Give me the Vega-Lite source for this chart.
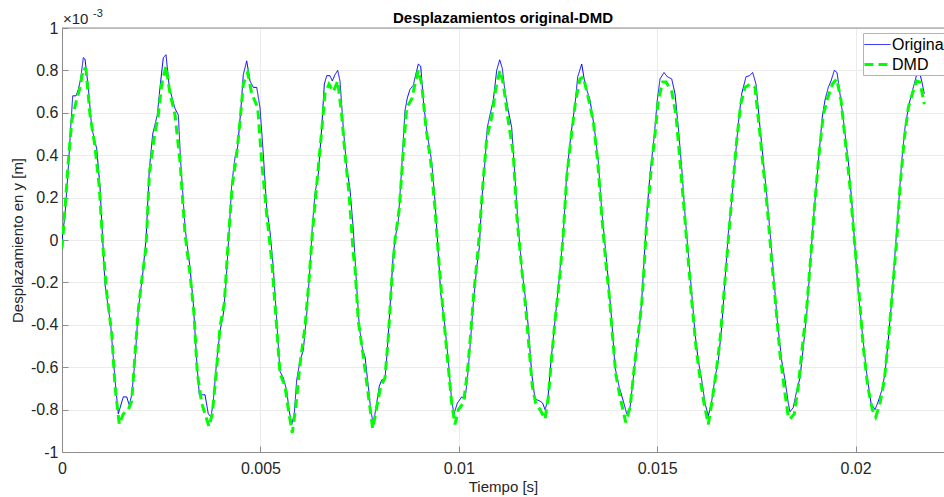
{
"$schema":"https://vega.github.io/schema/vega-lite/v6.json",
"width":882,"height":424,
"autosize":{"type":"none"},
"padding":{"left":62,"top":28,"right":0,"bottom":45},
"background":"white",
"title":{"text":"Desplazamientos original-DMD","fontSize":15,"fontWeight":"bold","font":"Liberation Sans","color":"#000000","offset":5,"anchor":"middle","frame":"group","dy":23},
"config":{"view":{"stroke":null},"axis":{"labelFont":"Liberation Sans","titleFont":"Liberation Sans","labelFontSize":16,"titleFontSize":15,"labelColor":"#262626","titleColor":"#262626","titleFontWeight":"normal","domainColor":"#8c8c8c","tickColor":"#8c8c8c","gridColor":"#ebebeb","grid":true}},
"datasets":{
"original":[{"t":0,"y":0},{"t":0.000076,"y":0.12},{"t":0.000159,"y":0.34},{"t":0.000219,"y":0.53},{"t":0.00027,"y":0.68},{"t":0.000353,"y":0.68},{"t":0.000411,"y":0.71},{"t":0.000471,"y":0.76},{"t":0.000537,"y":0.86},{"t":0.00058,"y":0.853},{"t":0.000663,"y":0.72},{"t":0.000749,"y":0.53},{"t":0.000875,"y":0.43},{"t":0.000958,"y":0.25},{"t":0.001026,"y":0},{"t":0.001084,"y":-0.21},{"t":0.001227,"y":-0.4},{"t":0.001336,"y":-0.66},{"t":0.001419,"y":-0.82},{"t":0.001545,"y":-0.74},{"t":0.001631,"y":-0.74},{"t":0.001696,"y":-0.78},{"t":0.001757,"y":-0.73},{"t":0.00184,"y":-0.57},{"t":0.001923,"y":-0.33},{"t":0.002034,"y":-0.16},{"t":0.002117,"y":0},{"t":0.0022,"y":0.33},{"t":0.002286,"y":0.5},{"t":0.002402,"y":0.59},{"t":0.00247,"y":0.72},{"t":0.002553,"y":0.86},{"t":0.002621,"y":0.874},{"t":0.002704,"y":0.72},{"t":0.002848,"y":0.62},{"t":0.002931,"y":0.59},{"t":0.002991,"y":0.37},{"t":0.0031,"y":0.06},{"t":0.003226,"y":-0.13},{"t":0.003309,"y":-0.3},{"t":0.003395,"y":-0.57},{"t":0.00346,"y":-0.73},{"t":0.003561,"y":-0.73},{"t":0.003604,"y":-0.73},{"t":0.003687,"y":-0.82},{"t":0.003755,"y":-0.835},{"t":0.003813,"y":-0.76},{"t":0.003899,"y":-0.57},{"t":0.003982,"y":-0.43},{"t":0.004065,"y":-0.35},{"t":0.004126,"y":-0.22},{"t":0.004209,"y":0.03},{"t":0.004277,"y":0.26},{"t":0.00436,"y":0.39},{"t":0.004428,"y":0.44},{"t":0.004511,"y":0.625},{"t":0.004569,"y":0.78},{"t":0.004655,"y":0.845},{"t":0.004738,"y":0.75},{"t":0.004821,"y":0.72},{"t":0.004907,"y":0.72},{"t":0.00499,"y":0.625},{"t":0.005073,"y":0.405},{"t":0.005159,"y":0.15},{"t":0.005242,"y":0.04},{"t":0.005325,"y":-0.13},{"t":0.005411,"y":-0.38},{"t":0.005494,"y":-0.62},{"t":0.005577,"y":-0.65},{"t":0.005663,"y":-0.71},{"t":0.005721,"y":-0.8},{"t":0.005789,"y":-0.87},{"t":0.005854,"y":-0.82},{"t":0.005915,"y":-0.66},{"t":0.005998,"y":-0.57},{"t":0.006081,"y":-0.52},{"t":0.006167,"y":-0.35},{"t":0.00625,"y":-0.13},{"t":0.006308,"y":0.06},{"t":0.006376,"y":0.22},{"t":0.006459,"y":0.31},{"t":0.006545,"y":0.53},{"t":0.006611,"y":0.735},{"t":0.006671,"y":0.775},{"t":0.006754,"y":0.775},{"t":0.006812,"y":0.75},{"t":0.00688,"y":0.78},{"t":0.006948,"y":0.8},{"t":0.007006,"y":0.75},{"t":0.007089,"y":0.53},{"t":0.007175,"y":0.34},{"t":0.007258,"y":0.24},{"t":0.007341,"y":0.05},{"t":0.007427,"y":-0.22},{"t":0.007493,"y":-0.41},{"t":0.007578,"y":-0.52},{"t":0.007636,"y":-0.55},{"t":0.007719,"y":-0.69},{"t":0.00778,"y":-0.8},{"t":0.007846,"y":-0.87},{"t":0.007913,"y":-0.79},{"t":0.007996,"y":-0.69},{"t":0.008057,"y":-0.66},{"t":0.00814,"y":-0.655},{"t":0.008198,"y":-0.52},{"t":0.008266,"y":-0.32},{"t":0.008349,"y":-0.065},{"t":0.008417,"y":0.03},{"t":0.008475,"y":0.09},{"t":0.008561,"y":0.34},{"t":0.008644,"y":0.61},{"t":0.008702,"y":0.67},{"t":0.00877,"y":0.71},{"t":0.008854,"y":0.73},{"t":0.008914,"y":0.78},{"t":0.00898,"y":0.83},{"t":0.00904,"y":0.82},{"t":0.009106,"y":0.66},{"t":0.009191,"y":0.515},{"t":0.009317,"y":0.37},{"t":0.0094,"y":0.185},{"t":0.009484,"y":-0.065},{"t":0.009544,"y":-0.25},{"t":0.009652,"y":-0.41},{"t":0.009736,"y":-0.57},{"t":0.009821,"y":-0.76},{"t":0.009879,"y":-0.82},{"t":0.009962,"y":-0.77},{"t":0.010073,"y":-0.74},{"t":0.010156,"y":-0.75},{"t":0.010214,"y":-0.66},{"t":0.010282,"y":-0.505},{"t":0.010366,"y":-0.3},{"t":0.010451,"y":-0.13},{"t":0.010517,"y":-0.035},{"t":0.010577,"y":0.185},{"t":0.01066,"y":0.37},{"t":0.010718,"y":0.53},{"t":0.010786,"y":0.59},{"t":0.01087,"y":0.66},{"t":0.010955,"y":0.8},{"t":0.01103,"y":0.85},{"t":0.011096,"y":0.81},{"t":0.011164,"y":0.7},{"t":0.011248,"y":0.61},{"t":0.011333,"y":0.53},{"t":0.011416,"y":0.295},{"t":0.0115,"y":0.06},{"t":0.011585,"y":-0.13},{"t":0.011686,"y":-0.285},{"t":0.011752,"y":-0.41},{"t":0.011837,"y":-0.63},{"t":0.01192,"y":-0.75},{"t":0.012047,"y":-0.76},{"t":0.012115,"y":-0.77},{"t":0.012173,"y":-0.8},{"t":0.012241,"y":-0.76},{"t":0.012324,"y":-0.57},{"t":0.012425,"y":-0.38},{"t":0.012525,"y":-0.19},{"t":0.012634,"y":0.03},{"t":0.012719,"y":0.31},{"t":0.012828,"y":0.5},{"t":0.012929,"y":0.64},{"t":0.012997,"y":0.77},{"t":0.013098,"y":0.83},{"t":0.013181,"y":0.735},{"t":0.013307,"y":0.66},{"t":0.013415,"y":0.53},{"t":0.013516,"y":0.37},{"t":0.013601,"y":0.14},{"t":0.013685,"y":-0.02},{"t":0.013768,"y":-0.19},{"t":0.013854,"y":-0.38},{"t":0.013937,"y":-0.6},{"t":0.014038,"y":-0.69},{"t":0.014146,"y":-0.76},{"t":0.014232,"y":-0.82},{"t":0.014315,"y":-0.79},{"t":0.014398,"y":-0.65},{"t":0.014484,"y":-0.505},{"t":0.014541,"y":-0.44},{"t":0.01461,"y":-0.285},{"t":0.014675,"y":-0.08},{"t":0.014736,"y":0.12},{"t":0.014819,"y":0.31},{"t":0.01492,"y":0.48},{"t":0.015003,"y":0.66},{"t":0.015071,"y":0.76},{"t":0.015172,"y":0.79},{"t":0.015255,"y":0.77},{"t":0.015366,"y":0.76},{"t":0.015449,"y":0.69},{"t":0.015532,"y":0.53},{"t":0.015618,"y":0.34},{"t":0.015701,"y":0.12},{"t":0.015784,"y":-0.065},{"t":0.01587,"y":-0.25},{"t":0.015953,"y":-0.44},{"t":0.016036,"y":-0.57},{"t":0.016122,"y":-0.66},{"t":0.016205,"y":-0.77},{"t":0.016288,"y":-0.83},{"t":0.016374,"y":-0.76},{"t":0.016457,"y":-0.65},{"t":0.01654,"y":-0.57},{"t":0.016626,"y":-0.41},{"t":0.016709,"y":-0.19},{"t":0.016792,"y":0.03},{"t":0.016878,"y":0.185},{"t":0.016961,"y":0.37},{"t":0.017044,"y":0.55},{"t":0.01713,"y":0.69},{"t":0.017238,"y":0.77},{"t":0.017322,"y":0.775},{"t":0.017407,"y":0.79},{"t":0.01749,"y":0.735},{"t":0.017591,"y":0.53},{"t":0.017692,"y":0.34},{"t":0.017775,"y":0.185},{"t":0.017861,"y":0},{"t":0.017944,"y":-0.19},{"t":0.018027,"y":-0.38},{"t":0.018138,"y":-0.57},{"t":0.018221,"y":-0.66},{"t":0.018304,"y":-0.77},{"t":0.018347,"y":-0.81},{"t":0.01843,"y":-0.79},{"t":0.018516,"y":-0.71},{"t":0.018599,"y":-0.65},{"t":0.018682,"y":-0.505},{"t":0.018768,"y":-0.35},{"t":0.018851,"y":-0.13},{"t":0.018934,"y":0.09},{"t":0.01902,"y":0.28},{"t":0.019078,"y":0.405},{"t":0.019161,"y":0.58},{"t":0.019229,"y":0.66},{"t":0.019312,"y":0.72},{"t":0.01938,"y":0.75},{"t":0.019464,"y":0.8},{"t":0.019532,"y":0.79},{"t":0.019607,"y":0.69},{"t":0.019716,"y":0.53},{"t":0.019817,"y":0.37},{"t":0.019902,"y":0.185},{"t":0.019985,"y":-0.035},{"t":0.020069,"y":-0.25},{"t":0.02017,"y":-0.44},{"t":0.02028,"y":-0.63},{"t":0.020389,"y":-0.77},{"t":0.02049,"y":-0.8},{"t":0.020573,"y":-0.76},{"t":0.020659,"y":-0.71},{"t":0.020741,"y":-0.63},{"t":0.020825,"y":-0.47},{"t":0.02091,"y":-0.285},{"t":0.020993,"y":-0.065},{"t":0.021077,"y":0.15},{"t":0.021162,"y":0.37},{"t":0.021245,"y":0.53},{"t":0.021346,"y":0.64},{"t":0.021455,"y":0.72},{"t":0.02154,"y":0.78},{"t":0.021598,"y":0.8},{"t":0.021666,"y":0.75},{"t":0.021732,"y":0.69}],
"dmd":[{"t":0,"y":-0.04},{"t":0.000076,"y":0.15},{"t":0.000159,"y":0.37},{"t":0.000244,"y":0.56},{"t":0.000353,"y":0.65},{"t":0.000454,"y":0.72},{"t":0.000537,"y":0.81},{"t":0.000605,"y":0.805},{"t":0.000706,"y":0.59},{"t":0.000832,"y":0.44},{"t":0.00094,"y":0.25},{"t":0.001026,"y":-0.02},{"t":0.001127,"y":-0.25},{"t":0.001253,"y":-0.44},{"t":0.001336,"y":-0.69},{"t":0.001444,"y":-0.87},{"t":0.001545,"y":-0.82},{"t":0.001671,"y":-0.8},{"t":0.001757,"y":-0.76},{"t":0.00184,"y":-0.54},{"t":0.001923,"y":-0.33},{"t":0.002009,"y":-0.19},{"t":0.002117,"y":-0.035},{"t":0.0022,"y":0.31},{"t":0.002319,"y":0.48},{"t":0.002427,"y":0.59},{"t":0.002513,"y":0.735},{"t":0.002621,"y":0.82},{"t":0.002722,"y":0.69},{"t":0.002848,"y":0.59},{"t":0.002974,"y":0.37},{"t":0.0031,"y":0.03},{"t":0.003226,"y":-0.16},{"t":0.003327,"y":-0.35},{"t":0.00341,"y":-0.63},{"t":0.003521,"y":-0.77},{"t":0.003705,"y":-0.88},{"t":0.003788,"y":-0.82},{"t":0.003899,"y":-0.6},{"t":0.003982,"y":-0.41},{"t":0.00409,"y":-0.3},{"t":0.004191,"y":0},{"t":0.004292,"y":0.26},{"t":0.004403,"y":0.405},{"t":0.004486,"y":0.56},{"t":0.004569,"y":0.735},{"t":0.00468,"y":0.79},{"t":0.004781,"y":0.69},{"t":0.004932,"y":0.625},{"t":0.005033,"y":0.37},{"t":0.005159,"y":0.12},{"t":0.005285,"y":-0.1},{"t":0.005386,"y":-0.35},{"t":0.005494,"y":-0.63},{"t":0.00562,"y":-0.69},{"t":0.005721,"y":-0.82},{"t":0.005804,"y":-0.91},{"t":0.00589,"y":-0.79},{"t":0.005998,"y":-0.585},{"t":0.006124,"y":-0.41},{"t":0.006225,"y":-0.19},{"t":0.006308,"y":0.03},{"t":0.006419,"y":0.26},{"t":0.006527,"y":0.48},{"t":0.006628,"y":0.69},{"t":0.006729,"y":0.735},{"t":0.006837,"y":0.7},{"t":0.006948,"y":0.75},{"t":0.007049,"y":0.59},{"t":0.007132,"y":0.405},{"t":0.007233,"y":0.22},{"t":0.007341,"y":-0.065},{"t":0.007384,"y":-0.13},{"t":0.007467,"y":-0.38},{"t":0.007593,"y":-0.55},{"t":0.007719,"y":-0.73},{"t":0.00783,"y":-0.89},{"t":0.007931,"y":-0.79},{"t":0.008032,"y":-0.69},{"t":0.00814,"y":-0.65},{"t":0.008223,"y":-0.46},{"t":0.008309,"y":-0.19},{"t":0.008392,"y":0},{"t":0.008501,"y":0.15},{"t":0.008601,"y":0.42},{"t":0.008687,"y":0.625},{"t":0.008813,"y":0.665},{"t":0.008896,"y":0.735},{"t":0.00898,"y":0.8},{"t":0.009065,"y":0.735},{"t":0.009173,"y":0.53},{"t":0.009292,"y":0.37},{"t":0.0094,"y":0.15},{"t":0.009509,"y":-0.13},{"t":0.00961,"y":-0.35},{"t":0.009736,"y":-0.6},{"t":0.009821,"y":-0.77},{"t":0.009904,"y":-0.87},{"t":0.009988,"y":-0.8},{"t":0.010114,"y":-0.77},{"t":0.010214,"y":-0.63},{"t":0.0103,"y":-0.44},{"t":0.010383,"y":-0.24},{"t":0.010492,"y":-0.035},{"t":0.010602,"y":0.25},{"t":0.010703,"y":0.48},{"t":0.010829,"y":0.58},{"t":0.010938,"y":0.72},{"t":0.011038,"y":0.8},{"t":0.011122,"y":0.735},{"t":0.011248,"y":0.56},{"t":0.011374,"y":0.405},{"t":0.011459,"y":0.12},{"t":0.011567,"y":-0.1},{"t":0.011686,"y":-0.32},{"t":0.011769,"y":-0.505},{"t":0.011853,"y":-0.69},{"t":0.011938,"y":-0.77},{"t":0.012047,"y":-0.8},{"t":0.012173,"y":-0.845},{"t":0.012256,"y":-0.74},{"t":0.012341,"y":-0.55},{"t":0.012425,"y":-0.38},{"t":0.012551,"y":-0.16},{"t":0.012634,"y":0.03},{"t":0.012719,"y":0.295},{"t":0.012828,"y":0.48},{"t":0.012946,"y":0.66},{"t":0.013055,"y":0.76},{"t":0.013138,"y":0.77},{"t":0.013264,"y":0.67},{"t":0.01339,"y":0.56},{"t":0.013501,"y":0.37},{"t":0.013601,"y":0.12},{"t":0.013702,"y":-0.1},{"t":0.013786,"y":-0.25},{"t":0.013869,"y":-0.44},{"t":0.013954,"y":-0.63},{"t":0.014063,"y":-0.74},{"t":0.014207,"y":-0.86},{"t":0.014315,"y":-0.79},{"t":0.014424,"y":-0.6},{"t":0.014524,"y":-0.44},{"t":0.01461,"y":-0.3},{"t":0.01465,"y":-0.19},{"t":0.014736,"y":0.09},{"t":0.014836,"y":0.31},{"t":0.014945,"y":0.5},{"t":0.015028,"y":0.66},{"t":0.015139,"y":0.745},{"t":0.015222,"y":0.745},{"t":0.015366,"y":0.7},{"t":0.015474,"y":0.59},{"t":0.015575,"y":0.37},{"t":0.015676,"y":0.15},{"t":0.015784,"y":-0.1},{"t":0.01587,"y":-0.285},{"t":0.015978,"y":-0.505},{"t":0.016079,"y":-0.65},{"t":0.01618,"y":-0.77},{"t":0.016288,"y":-0.87},{"t":0.016374,"y":-0.77},{"t":0.016482,"y":-0.63},{"t":0.016583,"y":-0.47},{"t":0.016684,"y":-0.25},{"t":0.016792,"y":0},{"t":0.016903,"y":0.25},{"t":0.017004,"y":0.47},{"t":0.017104,"y":0.64},{"t":0.017213,"y":0.72},{"t":0.017339,"y":0.735},{"t":0.017465,"y":0.72},{"t":0.017573,"y":0.53},{"t":0.017674,"y":0.34},{"t":0.017775,"y":0.15},{"t":0.017886,"y":-0.1},{"t":0.017994,"y":-0.32},{"t":0.018095,"y":-0.54},{"t":0.018196,"y":-0.69},{"t":0.018304,"y":-0.835},{"t":0.018347,"y":-0.845},{"t":0.018455,"y":-0.82},{"t":0.018556,"y":-0.69},{"t":0.018657,"y":-0.505},{"t":0.018768,"y":-0.32},{"t":0.018876,"y":-0.065},{"t":0.018977,"y":0.185},{"t":0.019078,"y":0.405},{"t":0.019186,"y":0.59},{"t":0.019297,"y":0.67},{"t":0.019413,"y":0.735},{"t":0.019524,"y":0.76},{"t":0.019632,"y":0.66},{"t":0.019733,"y":0.48},{"t":0.019859,"y":0.25},{"t":0.019968,"y":0},{"t":0.020086,"y":-0.25},{"t":0.020194,"y":-0.505},{"t":0.020305,"y":-0.69},{"t":0.020421,"y":-0.8},{"t":0.020507,"y":-0.835},{"t":0.020615,"y":-0.77},{"t":0.020724,"y":-0.66},{"t":0.020825,"y":-0.47},{"t":0.020925,"y":-0.25},{"t":0.021036,"y":0},{"t":0.021119,"y":0.25},{"t":0.021228,"y":0.48},{"t":0.021329,"y":0.625},{"t":0.021429,"y":0.69},{"t":0.02154,"y":0.75},{"t":0.021623,"y":0.745},{"t":0.021732,"y":0.64}]
},
"layer":[
{"data":{"values":[{}]},"mark":{"type":"rule","color":"#8c8c8c","strokeWidth":1},"encoding":{"y":{"datum":1,"type":"quantitative"}}},
{"data":{"name":"original"},"mark":{"type":"line","clip":true},
 "encoding":{
  "x":{"field":"t","type":"quantitative","scale":{"domain":[0,0.022228],"nice":false,"zero":false},
       "axis":{"values":[0,0.005,0.01,0.015,0.02],"labelExpr":"datum.value + ''","title":"Tiempo [s]","tickSize":-6,"labelPadding":14,"titlePadding":3,"labelFlush":false}},
  "y":{"field":"y","type":"quantitative","scale":{"domain":[-1,1],"nice":false},
       "axis":{"values":[-1,-0.8,-0.6,-0.4,-0.2,0,0.2,0.4,0.6,0.8,1],"labelExpr":"datum.value + ''","title":"Desplazamiento en y [m]","tickSize":-6,"labelPadding":10,"titlePadding":5,"labelFlush":false}},
  "color":{"datum":"Original","type":"nominal","scale":{"domain":["Original","DMD"],"range":["#0000ff","#00ff00"]},
       "legend":{"title":null,"orient":"none","legendX":801,"legendY":5,"symbolType":"M-1.45,0H1.45","symbolSize":324,"symbolOffset":2,"labelFontSize":16,"labelFont":"Liberation Sans","labelColor":"#000000","padding":2,"rowPadding":1,"fillColor":"white","strokeColor":"#b4b4b4","labelOffset":4}},
  "strokeDash":{"datum":"Original","type":"nominal","scale":{"domain":["Original","DMD"],"range":[[1,0],[9,5]]}},
  "strokeWidth":{"datum":"Original","type":"nominal","scale":{"domain":["Original","DMD"],"range":[1,3]}}
 }},
{"data":{"name":"dmd"},"mark":{"type":"line","clip":true},
 "encoding":{
  "x":{"field":"t","type":"quantitative"},
  "y":{"field":"y","type":"quantitative"},
  "color":{"datum":"DMD","type":"nominal"},
  "strokeDash":{"datum":"DMD","type":"nominal"},
  "strokeWidth":{"datum":"DMD","type":"nominal"}
 }},
{"data":{"values":[{}]},"mark":{"type":"text","text":"×10","fontSize":15,"font":"Liberation Sans","color":"#262626","align":"left","baseline":"alphabetic","dx":1,"dy":-4},"encoding":{"x":{"datum":0,"type":"quantitative"},"y":{"datum":1,"type":"quantitative"}}},
{"data":{"values":[{}]},"mark":{"type":"text","text":"-3","fontSize":11,"font":"Liberation Sans","color":"#262626","align":"left","baseline":"alphabetic","dx":31,"dy":-11},"encoding":{"x":{"datum":0,"type":"quantitative"},"y":{"datum":1,"type":"quantitative"}}}
]
}
